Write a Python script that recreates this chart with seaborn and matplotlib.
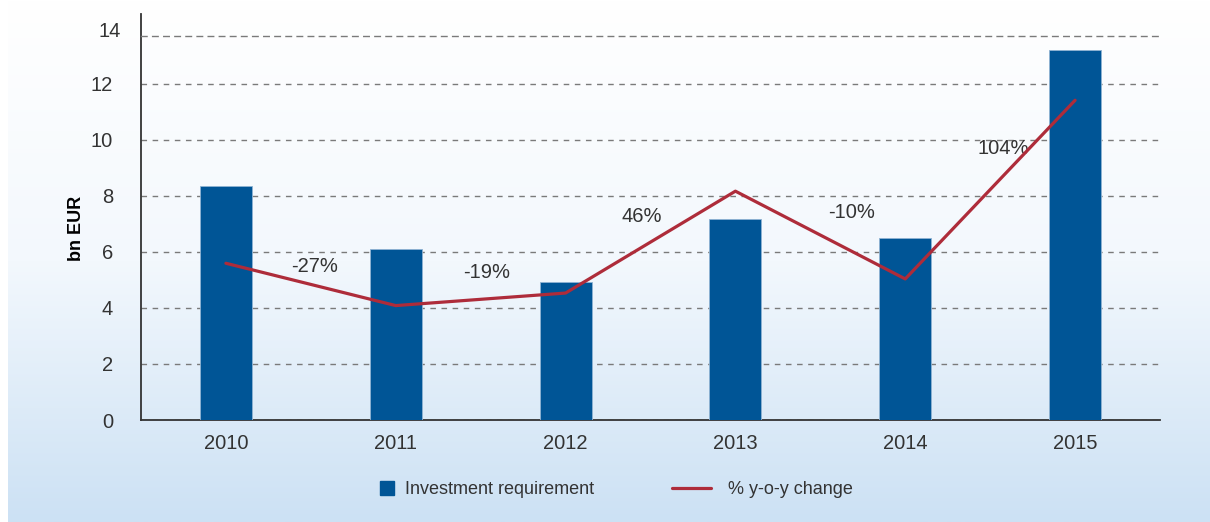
import numpy as np
import pandas as pd
import seaborn as sns
import matplotlib.pyplot as plt
from matplotlib.lines import Line2D
from matplotlib.colors import LinearSegmentedColormap

# data
years = ["2010", "2011", "2012", "2013", "2014", "2015"]
investment = [8.36, 6.1, 4.93, 7.18, 6.5, 13.19]      # bn EUR
yoy_change = [0, -27, -19, 46, -10, 104]              # % y-o-y change
change_labels = ["-27%", "-19%", "46%", "-10%", "104%"]
label_offsets = [(4, 18), (6, 27), (-9, 26), (31, 23), (13, 41)]  # px from segment midpoint

BAR = "#005596"
LINE = "#AE2C3A"
TXT = "#333333"

sns.set_style("white")
plt.rcParams["font.family"] = ["Liberation Sans", "DejaVu Sans"]

fig = plt.figure(figsize=(12.1, 5.22), dpi=100)

# gradient background
bg = fig.add_axes([8 / 1210, 0, 1 - 8 / 1210, 1], zorder=-10)
grad = np.linspace(0, 1, 256).reshape(-1, 1)
cmap = LinearSegmentedColormap.from_list("bg", ["#FFFFFF", "#F3F8FD", "#CCE1F4"])
bg.imshow(grad, aspect="auto", cmap=cmap, extent=[0, 1, 0, 1])
bg.set_axis_off()

ax = fig.add_axes([141 / 1210, 1 - 420 / 522, (1160 - 141) / 1210, (420 - 36) / 522])
ax.patch.set_alpha(0)

df = pd.DataFrame({"year": years, "investment": investment, "change": yoy_change})
sns.barplot(data=df, x="year", y="investment", color=BAR, saturation=1,
            width=0.306, edgecolor="#8FB3D3", linewidth=0.6, ax=ax, zorder=3)

ax.set_xlim(-0.5, 5.5)
ax.set_ylim(0, 13.7)
ax.set_yticks([0, 2, 4, 6, 8, 10, 12])
ax.yaxis.grid(True, linestyle=(0, (4, 4)), color="#7A7A7A", linewidth=1.0, zorder=0)
ax.set_axisbelow(True)
ax.spines["right"].set_visible(False)
ax.spines["top"].set_linestyle((0, (4, 4)))
ax.spines["top"].set_color("#7A7A7A")
ax.spines["top"].set_linewidth(1.0)
ax.spines["left"].set_color(TXT)
ax.spines["bottom"].set_color(TXT)
ax.spines["left"].set_linewidth(1.3)
ax.spines["bottom"].set_linewidth(1.3)
ax.spines["left"].set_bounds(0, 14.5)
ax.tick_params(axis="both", length=0, labelsize=14.5, labelcolor=TXT)
ax.tick_params(axis="y", pad=20)
ax.tick_params(axis="x", pad=10)
# "14" sits above the plot area, like in the reference
ax.annotate("14", (0, 13.85), xycoords=("axes fraction", "data"),
            xytext=(-20 * 0.72, 0), textcoords="offset points",
            ha="right", va="center", fontsize=14.5, color=TXT, annotation_clip=False)
ax.set_xlabel("")
ax.set_ylabel("bn EUR", fontsize=13, fontweight="bold", color="black", labelpad=4)

# secondary (hidden) axis for the % change line
ax2 = ax.twinx()
sns.lineplot(x=np.arange(len(years)), y=yoy_change, ax=ax2, color=LINE,
             linewidth=2.3, zorder=5)
ax2.set_ylim(-100, 145)
ax2.set_xlim(-0.5, 5.5)
ax2.set_axis_off()

for i, (lab, off) in enumerate(zip(change_labels, label_offsets)):
    xm = i + 0.5
    ym = (yoy_change[i] + yoy_change[i + 1]) / 2
    ax2.annotate(lab, (xm, ym), xytext=(off[0] * 0.72, off[1] * 0.72),
                 textcoords="offset points", ha="center", va="center",
                 fontsize=14.5, color=TXT)

# two legend groups, each with its own handle size
leg1 = fig.legend([Line2D([], [], marker="s", linestyle="none", markersize=10, color=BAR)],
                  ["Investment requirement"], loc="center",
                  bbox_to_anchor=(487 / 1210, 1 - 490 / 522), frameon=False,
                  fontsize=13, handlelength=0.8, handletextpad=0.6, labelcolor=TXT)
fig.legend([Line2D([], [], color=LINE, linewidth=2.3)], ["% y-o-y change"],
           loc="center", bbox_to_anchor=(762 / 1210, 1 - 490 / 522), frameon=False,
           fontsize=13, handlelength=2.2, handletextpad=0.9, labelcolor=TXT)

fig.savefig("out.png", dpi=100)
